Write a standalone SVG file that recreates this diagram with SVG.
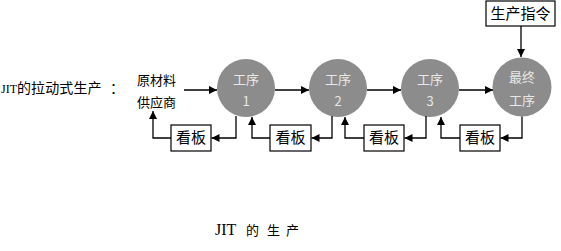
<svg xmlns="http://www.w3.org/2000/svg" width="561" height="251" viewBox="0 0 561 251">
<style>
.cjk{font-family:"Liberation Serif","Noto Sans CJK SC",serif;fill:#000}
.box{fill:#fff;stroke:#000;stroke-width:1.2}
.proc{fill:#8c8c8c;stroke:none}
.ptxt{font-family:"Noto Sans CJK SC",sans-serif;font-size:13px;fill:#e8e8e8;text-anchor:middle}
.btxt{font-family:"Noto Sans CJK SC",sans-serif;font-size:15px;fill:#000;text-anchor:middle}
.ln{fill:none;stroke:#000;stroke-width:1.3}
</style>
<defs>
<marker id="ah" viewBox="0 0 10 10" refX="10" refY="5" markerWidth="8" markerHeight="8" markerUnits="userSpaceOnUse" orient="auto">
<path d="M0,0 L10,5 L0,10 Z" fill="#000"/>
</marker>
</defs>
<rect width="561" height="251" fill="#fff"/>
<text id="label" class="cjk" y="93" font-size="14"><tspan x="1" font-size="12">JIT</tspan><tspan x="17" letter-spacing="0.1">的拉动式生产</tspan><tspan x="110">：</tspan></text>
<g id="supplier">
<text class="cjk" x="137" y="85" font-size="13">原材料</text>
<text class="cjk" x="137" y="107" font-size="13">供应商</text>
</g>
<g id="p1"><circle class="proc" cx="246" cy="88" r="29"/><text class="ptxt" x="246" y="84">工序</text><text class="ptxt" x="246" y="106">1</text></g>
<g id="p2"><circle class="proc" cx="338" cy="88" r="29"/><text class="ptxt" x="338" y="84">工序</text><text class="ptxt" x="338" y="106">2</text></g>
<g id="p3"><circle class="proc" cx="430" cy="88" r="29"/><text class="ptxt" x="430" y="84">工序</text><text class="ptxt" x="430" y="106">3</text></g>
<g id="p4"><circle class="proc" cx="522" cy="87" r="29.5"/><text class="ptxt" x="522" y="82">最终</text><text class="ptxt" x="522" y="105">工序</text></g>
<g id="order"><rect class="box" x="486" y="1" width="69" height="25"/><text class="btxt" x="520.5" y="19">生产指令</text></g>
<g id="k1"><rect class="box" x="171" y="125" width="40" height="26"/><text class="btxt" x="191" y="143">看板</text></g>
<g id="k2"><rect class="box" x="270" y="125" width="41" height="26"/><text class="btxt" x="290.5" y="143">看板</text></g>
<g id="k3"><rect class="box" x="364" y="125" width="40" height="26"/><text class="btxt" x="384" y="143">看板</text></g>
<g id="k4"><rect class="box" x="460" y="125" width="40" height="26"/><text class="btxt" x="480" y="143">看板</text></g>
<g id="connectors">
<path class="ln" d="M184 90 H217" marker-end="url(#ah)"/>
<path class="ln" d="M275 90 H309" marker-end="url(#ah)"/>
<path class="ln" d="M367 90 H401" marker-end="url(#ah)"/>
<path class="ln" d="M459 90 H493" marker-end="url(#ah)"/>
<path class="ln" d="M521 26 V57" marker-end="url(#ah)"/>
<path class="ln" d="M236 116 V138 H211.5" marker-end="url(#ah)"/>
<path class="ln" d="M171 138 H153 V111" marker-end="url(#ah)"/>
<path class="ln" d="M270 138 H252 V117" marker-end="url(#ah)"/>
<path class="ln" d="M332 116 V138 H311.5" marker-end="url(#ah)"/>
<path class="ln" d="M364 138 H345 V117" marker-end="url(#ah)"/>
<path class="ln" d="M426 116 V138 H404.5" marker-end="url(#ah)"/>
<path class="ln" d="M460 138 H441 V117" marker-end="url(#ah)"/>
<path class="ln" d="M522 116.5 V138 H500.5" marker-end="url(#ah)"/>
</g>
<text id="title" class="cjk" y="235" font-size="13"><tspan x="215" font-size="16">JIT </tspan><tspan x="246">的 </tspan><tspan x="267">生 </tspan><tspan x="286">产</tspan></text>
</svg>
